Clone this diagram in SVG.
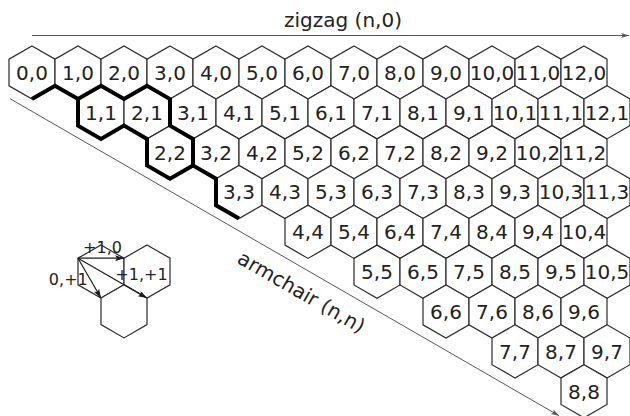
<svg xmlns="http://www.w3.org/2000/svg" xmlns:xlink="http://www.w3.org/1999/xlink" width="630" height="416" viewBox="0 0 630 416">
  <style>
    .hex { fill: #fff; stroke: #2a2a2a; stroke-width: 1.2; stroke-linejoin: miter; }
    .lbl { font-family: "DejaVu Sans", "Noto Sans", sans-serif; font-size: 20px; text-anchor: middle; fill: #222; }
    .small { font-family: "DejaVu Sans", "Noto Sans", sans-serif; font-size: 16px; text-anchor: middle; fill: #222; }
    .axis { fill: none; stroke: #555; stroke-width: 1; }
    .vec { fill: none; stroke: #1a1a1a; stroke-width: 1.2; }
    .cell { fill: none; stroke: #000; stroke-width: 4; stroke-linejoin: miter; stroke-linecap: butt; }
  </style>
  <defs>
    <!-- pointy-top hexagon, 46 wide, circumradius 26.56 -->
    <polygon id="hx" class="hex" points="0,-26.56 23,-13.28 23,13.28 0,26.56 -23,13.28 -23,-13.28"/>
    <marker id="tip-grey" viewBox="-9 -4 10 8" refX="0" refY="0" markerWidth="10" markerHeight="8" markerUnits="userSpaceOnUse" orient="auto">
      <path d="M-8,-2.6 L0,0 L-8,2.6 L-6,0 z" fill="#555"/>
    </marker>
    <marker id="tip-dark" viewBox="-10 -4 11 8" refX="0" refY="0" markerWidth="11" markerHeight="8" markerUnits="userSpaceOnUse" orient="auto">
      <path d="M-9,-3 L0,0 L-9,3 L-7,0 z" fill="#1a1a1a"/>
    </marker>
  </defs>

  <rect width="630" height="416" fill="#fff"/>

  <!-- row 0 -->
  <g id="c0-0" transform="translate(32,72.5)"><use href="#hx"/><text class="lbl" y="7.4">0,0</text></g>
  <g id="c1-0" transform="translate(78,72.5)"><use href="#hx"/><text class="lbl" y="7.4">1,0</text></g>
  <g id="c2-0" transform="translate(124,72.5)"><use href="#hx"/><text class="lbl" y="7.4">2,0</text></g>
  <g id="c3-0" transform="translate(170,72.5)"><use href="#hx"/><text class="lbl" y="7.4">3,0</text></g>
  <g id="c4-0" transform="translate(216,72.5)"><use href="#hx"/><text class="lbl" y="7.4">4,0</text></g>
  <g id="c5-0" transform="translate(262,72.5)"><use href="#hx"/><text class="lbl" y="7.4">5,0</text></g>
  <g id="c6-0" transform="translate(308,72.5)"><use href="#hx"/><text class="lbl" y="7.4">6,0</text></g>
  <g id="c7-0" transform="translate(354,72.5)"><use href="#hx"/><text class="lbl" y="7.4">7,0</text></g>
  <g id="c8-0" transform="translate(400,72.5)"><use href="#hx"/><text class="lbl" y="7.4">8,0</text></g>
  <g id="c9-0" transform="translate(446,72.5)"><use href="#hx"/><text class="lbl" y="7.4">9,0</text></g>
  <g id="c10-0" transform="translate(492,72.5)"><use href="#hx"/><text class="lbl" y="7.4">10,0</text></g>
  <g id="c11-0" transform="translate(538,72.5)"><use href="#hx"/><text class="lbl" y="7.4">11,0</text></g>
  <g id="c12-0" transform="translate(584,72.5)"><use href="#hx"/><text class="lbl" y="7.4">12,0</text></g>

  <!-- row 1 -->
  <g id="c1-1" transform="translate(101,112.34)"><use href="#hx"/><text class="lbl" y="7.4">1,1</text></g>
  <g id="c2-1" transform="translate(147,112.34)"><use href="#hx"/><text class="lbl" y="7.4">2,1</text></g>
  <g id="c3-1" transform="translate(193,112.34)"><use href="#hx"/><text class="lbl" y="7.4">3,1</text></g>
  <g id="c4-1" transform="translate(239,112.34)"><use href="#hx"/><text class="lbl" y="7.4">4,1</text></g>
  <g id="c5-1" transform="translate(285,112.34)"><use href="#hx"/><text class="lbl" y="7.4">5,1</text></g>
  <g id="c6-1" transform="translate(331,112.34)"><use href="#hx"/><text class="lbl" y="7.4">6,1</text></g>
  <g id="c7-1" transform="translate(377,112.34)"><use href="#hx"/><text class="lbl" y="7.4">7,1</text></g>
  <g id="c8-1" transform="translate(423,112.34)"><use href="#hx"/><text class="lbl" y="7.4">8,1</text></g>
  <g id="c9-1" transform="translate(469,112.34)"><use href="#hx"/><text class="lbl" y="7.4">9,1</text></g>
  <g id="c10-1" transform="translate(515,112.34)"><use href="#hx"/><text class="lbl" y="7.4">10,1</text></g>
  <g id="c11-1" transform="translate(561,112.34)"><use href="#hx"/><text class="lbl" y="7.4">11,1</text></g>
  <g id="c12-1" transform="translate(607,112.34)"><use href="#hx"/><text class="lbl" y="7.4">12,1</text></g>

  <!-- row 2 -->
  <g id="c2-2" transform="translate(170,152.18)"><use href="#hx"/><text class="lbl" y="7.4">2,2</text></g>
  <g id="c3-2" transform="translate(216,152.18)"><use href="#hx"/><text class="lbl" y="7.4">3,2</text></g>
  <g id="c4-2" transform="translate(262,152.18)"><use href="#hx"/><text class="lbl" y="7.4">4,2</text></g>
  <g id="c5-2" transform="translate(308,152.18)"><use href="#hx"/><text class="lbl" y="7.4">5,2</text></g>
  <g id="c6-2" transform="translate(354,152.18)"><use href="#hx"/><text class="lbl" y="7.4">6,2</text></g>
  <g id="c7-2" transform="translate(400,152.18)"><use href="#hx"/><text class="lbl" y="7.4">7,2</text></g>
  <g id="c8-2" transform="translate(446,152.18)"><use href="#hx"/><text class="lbl" y="7.4">8,2</text></g>
  <g id="c9-2" transform="translate(492,152.18)"><use href="#hx"/><text class="lbl" y="7.4">9,2</text></g>
  <g id="c10-2" transform="translate(538,152.18)"><use href="#hx"/><text class="lbl" y="7.4">10,2</text></g>
  <g id="c11-2" transform="translate(584,152.18)"><use href="#hx"/><text class="lbl" y="7.4">11,2</text></g>

  <!-- row 3 -->
  <g id="c3-3" transform="translate(239,192.02)"><use href="#hx"/><text class="lbl" y="7.4">3,3</text></g>
  <g id="c4-3" transform="translate(285,192.02)"><use href="#hx"/><text class="lbl" y="7.4">4,3</text></g>
  <g id="c5-3" transform="translate(331,192.02)"><use href="#hx"/><text class="lbl" y="7.4">5,3</text></g>
  <g id="c6-3" transform="translate(377,192.02)"><use href="#hx"/><text class="lbl" y="7.4">6,3</text></g>
  <g id="c7-3" transform="translate(423,192.02)"><use href="#hx"/><text class="lbl" y="7.4">7,3</text></g>
  <g id="c8-3" transform="translate(469,192.02)"><use href="#hx"/><text class="lbl" y="7.4">8,3</text></g>
  <g id="c9-3" transform="translate(515,192.02)"><use href="#hx"/><text class="lbl" y="7.4">9,3</text></g>
  <g id="c10-3" transform="translate(561,192.02)"><use href="#hx"/><text class="lbl" y="7.4">10,3</text></g>
  <g id="c11-3" transform="translate(607,192.02)"><use href="#hx"/><text class="lbl" y="7.4">11,3</text></g>

  <!-- row 4 -->
  <g id="c4-4" transform="translate(308,231.86)"><use href="#hx"/><text class="lbl" y="7.4">4,4</text></g>
  <g id="c5-4" transform="translate(354,231.86)"><use href="#hx"/><text class="lbl" y="7.4">5,4</text></g>
  <g id="c6-4" transform="translate(400,231.86)"><use href="#hx"/><text class="lbl" y="7.4">6,4</text></g>
  <g id="c7-4" transform="translate(446,231.86)"><use href="#hx"/><text class="lbl" y="7.4">7,4</text></g>
  <g id="c8-4" transform="translate(492,231.86)"><use href="#hx"/><text class="lbl" y="7.4">8,4</text></g>
  <g id="c9-4" transform="translate(538,231.86)"><use href="#hx"/><text class="lbl" y="7.4">9,4</text></g>
  <g id="c10-4" transform="translate(584,231.86)"><use href="#hx"/><text class="lbl" y="7.4">10,4</text></g>

  <!-- row 5 -->
  <g id="c5-5" transform="translate(377,271.7)"><use href="#hx"/><text class="lbl" y="7.4">5,5</text></g>
  <g id="c6-5" transform="translate(423,271.7)"><use href="#hx"/><text class="lbl" y="7.4">6,5</text></g>
  <g id="c7-5" transform="translate(469,271.7)"><use href="#hx"/><text class="lbl" y="7.4">7,5</text></g>
  <g id="c8-5" transform="translate(515,271.7)"><use href="#hx"/><text class="lbl" y="7.4">8,5</text></g>
  <g id="c9-5" transform="translate(561,271.7)"><use href="#hx"/><text class="lbl" y="7.4">9,5</text></g>
  <g id="c10-5" transform="translate(607,271.7)"><use href="#hx"/><text class="lbl" y="7.4">10,5</text></g>

  <!-- row 6 -->
  <g id="c6-6" transform="translate(446,311.54)"><use href="#hx"/><text class="lbl" y="7.4">6,6</text></g>
  <g id="c7-6" transform="translate(492,311.54)"><use href="#hx"/><text class="lbl" y="7.4">7,6</text></g>
  <g id="c8-6" transform="translate(538,311.54)"><use href="#hx"/><text class="lbl" y="7.4">8,6</text></g>
  <g id="c9-6" transform="translate(584,311.54)"><use href="#hx"/><text class="lbl" y="7.4">9,6</text></g>

  <!-- row 7 -->
  <g id="c7-7" transform="translate(515,351.38)"><use href="#hx"/><text class="lbl" y="7.4">7,7</text></g>
  <g id="c8-7" transform="translate(561,351.38)"><use href="#hx"/><text class="lbl" y="7.4">8,7</text></g>
  <g id="c9-7" transform="translate(607,351.38)"><use href="#hx"/><text class="lbl" y="7.4">9,7</text></g>

  <!-- row 8 -->
  <g id="c8-8" transform="translate(584,391.22)"><use href="#hx"/><text class="lbl" y="7.4">8,8</text></g>

  <!-- chiral strip outline -->
  <g id="unit-cell">
    <path class="cell" d="M32,99.06 L55,85.78 L78,99.06 L101,85.78 L124,99.06 L147,85.78 L170,99.06 L170,125.62 L193,138.9 L193,165.46 L216,178.74 L216,205.3 L239,218.58"/>
    <path class="cell" d="M78,99.06 L78,125.62 L101,138.9 L124,125.62 L147,138.9 L147,165.46 L170,178.74 L193,165.46"/>
  </g>

  <!-- lattice-step legend hexagons -->
  <g id="key-a" transform="translate(101,271.5)"><use href="#hx"/></g>
  <g id="key-b" transform="translate(147,271.5)"><use href="#hx"/></g>
  <g id="key-c" transform="translate(124,311.34)"><use href="#hx"/></g>

  <!-- direction arrows and step vectors -->
  <g id="connectors">
    <line class="axis" x1="32" y1="35.5" x2="629" y2="35.5" marker-end="url(#tip-grey)"/>
    <line class="axis" x1="10" y1="98.7" x2="559" y2="415.7" marker-end="url(#tip-grey)"/>
    <line class="vec" x1="78" y1="258.22" x2="124" y2="258.22" marker-end="url(#tip-dark)"/>
    <line class="vec" x1="78" y1="258.22" x2="101" y2="298.06" marker-end="url(#tip-dark)"/>
    <line class="vec" x1="78" y1="258.22" x2="147" y2="298.06" marker-end="url(#tip-dark)"/>
  </g>

  <g id="labels">
    <text class="lbl" x="343" y="27">zigzag (n,0)</text>
    <text class="lbl" transform="translate(298,298) rotate(30)">armchair (n,n)</text>
    <text class="small" x="102.5" y="253.3">+1,0</text>
    <text class="small" x="68.3" y="285">0,+1</text>
    <text class="small" x="141.5" y="280">+1,+1</text>
  </g>
</svg>
